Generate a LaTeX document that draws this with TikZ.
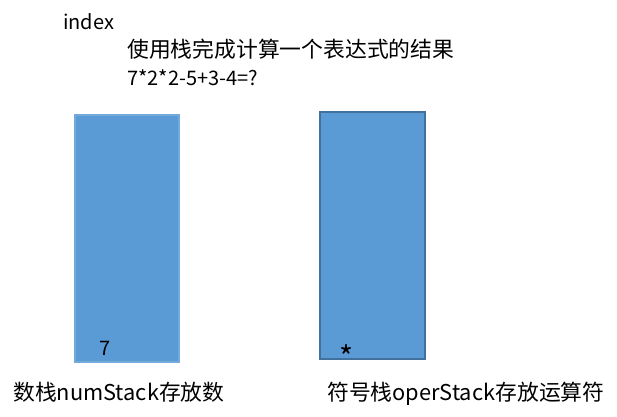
\documentclass[tikz,border=0pt]{standalone}
\usepackage{fontspec}
\setmainfont{Noto Sans CJK SC}
\definecolor{stackfill}{HTML}{5B9BD5}
\definecolor{stackedge}{HTML}{41719C}
\begin{document}
\begin{tikzpicture}[x=1pt,y=-1pt,
  txt/.style={anchor=base west,inner sep=0pt,text=black},
  stackbox/.style={fill=stackfill,line width=1.2pt}]
\useasboundingbox[fill=white] (0,0) rectangle (617,416);
% stacks
\draw[stackbox,draw=stackfill!85!white] (75,115) rectangle (179,362);
\draw[stackbox,draw=stackedge] (320,112) rectangle (425,359);
% texts
\node[txt,font=\fontsize{20}{24}\selectfont] (idx) at (63,29) {index};
\node[txt,font=\fontsize{21.8}{26}\selectfont] (title) at (127,57) {使用栈完成计算一个表达式的结果};
\node[txt,font=\fontsize{20}{24}\selectfont] (expr) at (127,85) {7*2*2-5+3-4=?};
\node[txt,font=\fontsize{20}{24}\selectfont] (seven) at (99,355) {7};
\node[anchor=base,inner sep=0pt,font=\fontsize{30}{34}\selectfont] (star) at (346,368) {*};
\node[txt,font=\fontsize{21.8}{26}\selectfont] (lab1) at (13,400) {数栈numStack存放数};
\node[txt,font=\fontsize{21.8}{26}\selectfont] (lab2) at (327,400) {符号栈operStack存放运算符};
\end{tikzpicture}
\end{document}
